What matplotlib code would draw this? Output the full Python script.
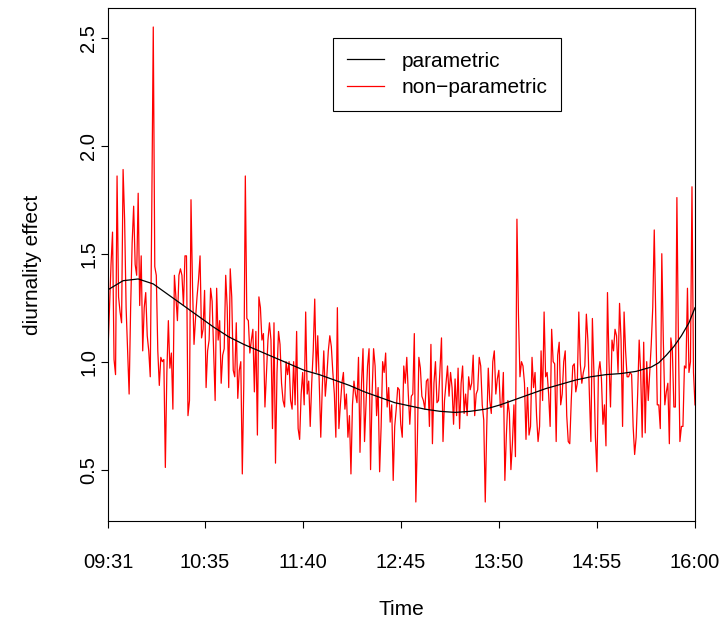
import numpy as np
import matplotlib
matplotlib.use("Agg")
from matplotlib import pyplot as plt

plt.rcParams['font.family'] = ['Liberation Sans', 'DejaVu Sans']

# minutes after 09:31, one value per minute
tick_pos = [0, 64, 129, 194, 259, 324, 389]
tick_lab = ["09:31", "10:35", "11:40", "12:45", "13:50", "14:55", "16:00"]

#non-parametric estimate (one per minute)
nonpar = [
    1.05, 1.25, 1.45, 1.60, 1.01, 0.94, 1.86, 1.30, 1.23, 1.18,
    1.89, 1.66, 1.25, 1.05, 0.85, 1.25, 1.55, 1.72, 1.45, 1.40,
    1.78, 1.26, 1.49, 1.05, 1.25, 1.32, 1.12, 1.05, 0.93, 1.70,
    2.55, 1.44, 1.40, 1.05, 0.89, 1.02, 1.00, 1.01, 0.51, 0.95,
    1.19, 0.97, 1.04, 0.78, 1.40, 1.30, 1.19, 1.40, 1.43, 1.40,
    1.26, 1.49, 1.49, 0.75, 0.82, 1.75, 1.35, 1.08, 1.20, 1.30,
    1.38, 1.49, 1.11, 1.15, 1.33, 0.88, 1.05, 1.10, 1.34, 1.28,
    1.05, 0.82, 1.34, 1.10, 1.19, 0.90, 1.03, 1.06, 1.40, 1.25,
    0.88, 1.43, 1.30, 0.96, 0.93, 1.18, 0.83, 0.96, 1.00, 0.48,
    0.90, 1.86, 1.20, 1.19, 1.04, 1.10, 1.15, 0.86, 1.14, 0.66,
    1.30, 1.25, 1.10, 1.13, 0.79, 0.95, 1.10, 1.18, 1.10, 0.69,
    1.18, 0.53, 0.95, 1.14, 1.08, 0.90, 0.82, 0.79, 1.00, 0.94,
    1.00, 0.82, 0.78, 1.00, 0.80, 1.14, 0.69, 0.64, 0.85, 0.95,
    0.80, 1.23, 0.85, 0.91, 0.70, 0.90, 1.05, 1.29, 0.95, 1.12,
    0.90, 0.65, 0.88, 1.05, 0.84, 0.93, 1.05, 1.12, 1.07, 0.95,
    0.85, 0.65, 1.25, 0.69, 0.80, 0.90, 0.95, 0.78, 0.85, 0.65,
    0.75, 0.48, 0.80, 0.91, 0.85, 0.81, 1.02, 0.58, 0.90, 1.06,
    0.63, 0.80, 0.98, 1.06, 0.50, 0.85, 1.06, 0.98, 0.75, 0.88,
    0.49, 0.70, 1.00, 0.95, 1.04, 0.79, 0.88, 0.72, 0.80, 0.45,
    0.70, 0.78, 0.88, 0.87, 0.71, 0.65, 0.98, 0.90, 1.02, 0.85,
    0.71, 0.84, 0.85, 1.13, 0.35, 0.63, 1.02, 0.97, 0.84, 0.82,
    0.78, 0.91, 0.92, 0.70, 1.08, 0.62, 0.90, 1.00, 0.81, 0.82,
    0.96, 1.11, 0.63, 0.82, 0.90, 0.98, 0.84, 0.95, 0.88, 0.71,
    0.92, 0.75, 0.97, 0.69, 0.90, 0.98, 0.76, 0.85, 0.75, 0.93,
    0.87, 0.90, 1.03, 0.75, 0.85, 0.87, 1.02, 0.98, 0.80, 0.73,
    0.35, 0.70, 0.97, 0.82, 0.76, 1.00, 1.05, 0.85, 0.92, 0.96,
    0.79, 0.79, 0.95, 0.45, 0.66, 0.82, 0.76, 0.50, 0.62, 0.80,
    0.56, 1.66, 1.22, 0.93, 1.00, 0.98, 0.90, 0.64, 0.88, 0.66,
    0.70, 1.02, 0.88, 0.95, 0.75, 0.63, 0.70, 1.05, 0.82, 1.23,
    0.93, 0.95, 0.85, 0.70, 1.15, 1.00, 0.99, 0.63, 1.03, 1.09,
    0.80, 0.85, 1.00, 1.05, 0.75, 0.63, 0.62, 0.82, 0.98, 0.99,
    0.86, 0.90, 1.23, 0.99, 0.90, 0.95, 0.98, 1.22, 1.10, 0.85,
    0.63, 1.20, 0.95, 0.65, 0.49, 0.95, 1.00, 0.92, 0.71, 0.80,
    0.61, 1.32, 1.00, 0.79, 1.10, 1.05, 1.15, 1.12, 0.95, 1.27,
    1.10, 0.70, 1.23, 1.05, 0.93, 0.93, 0.95, 0.94, 0.70, 0.57,
    0.65, 0.85, 1.10, 0.95, 0.65, 1.09, 0.67, 1.00, 0.82, 0.95,
    1.08, 1.25, 1.61, 1.20, 0.80, 0.80, 0.69, 1.50, 1.10, 0.80,
    0.86, 0.90, 0.62, 1.11, 1.05, 0.79, 0.79, 1.76, 1.10, 0.63,
    0.70, 0.70, 0.98, 0.97, 1.34, 0.95, 1.00, 1.81, 0.95, 0.80,
]

#parametric fit, read at a coarser grid
par_min = [0, 10, 20, 30, 40, 50, 60, 70, 80, 90, 100, 110, 120, 130, 140,
           150, 160, 170, 180, 190, 200, 210, 220, 230, 240, 250, 260, 270,
           280, 290, 300, 310, 320, 330, 340, 350, 360, 365, 370, 375, 380,
           385, 389]
par_val = [1.333, 1.375, 1.383, 1.36, 1.31, 1.26, 1.21, 1.16, 1.115, 1.08,
           1.05, 1.02, 0.99, 0.96, 0.94, 0.915, 0.89, 0.86, 0.835, 0.81,
           0.795, 0.78, 0.77, 0.765, 0.77, 0.78, 0.80, 0.825, 0.85, 0.875,
           0.895, 0.915, 0.93, 0.94, 0.945, 0.955, 0.975, 0.995, 1.03, 1.07,
           1.12, 1.18, 1.25]

minutes = np.arange(len(nonpar))

fig = plt.figure(figsize=(7.21, 6.18), dpi=100)
ax = fig.add_axes([108/721, (618-521)/618, 587/721, 513/618])

ax.plot(minutes, nonpar, color="red", lw=0.9, label="non\u2212parametric")
ax.plot(par_min, par_val, color="black", lw=0.9, label="parametric")

ax.set_xlim(0, 389)
ax.set_ylim(0.262, 2.638)
ax.set_xticks(tick_pos)
ax.set_xticklabels(tick_lab)
ax.set_yticks([0.5, 1.0, 1.5, 2.0, 2.5])
ax.set_yticklabels(["0.5", "1.0", "1.5", "2.0", "2.5"], rotation=90, va="center")
ax.tick_params(direction="out", length=5, width=0.8, labelsize=14.5)
ax.tick_params(axis="x", pad=18)
ax.tick_params(axis="y", pad=2)
for s in ax.spines.values():
    s.set_linewidth(0.8)

ax.set_xlabel("Time", fontsize=15, labelpad=20)
ax.set_ylabel("diurnality effect", fontsize=15, labelpad=27)

h, l = ax.get_legend_handles_labels()
leg = ax.legend(h[::-1], l[::-1], loc="upper left", bbox_to_anchor=(0.383, 0.9415),
                fontsize=15, fancybox=False, edgecolor="black", framealpha=1,
                handlelength=1.78, handletextpad=0.87, labelspacing=0.37,
                borderpad=0.66, borderaxespad=0)
leg.get_frame().set_linewidth(0.8)

fig.savefig("out.png", dpi=100)
